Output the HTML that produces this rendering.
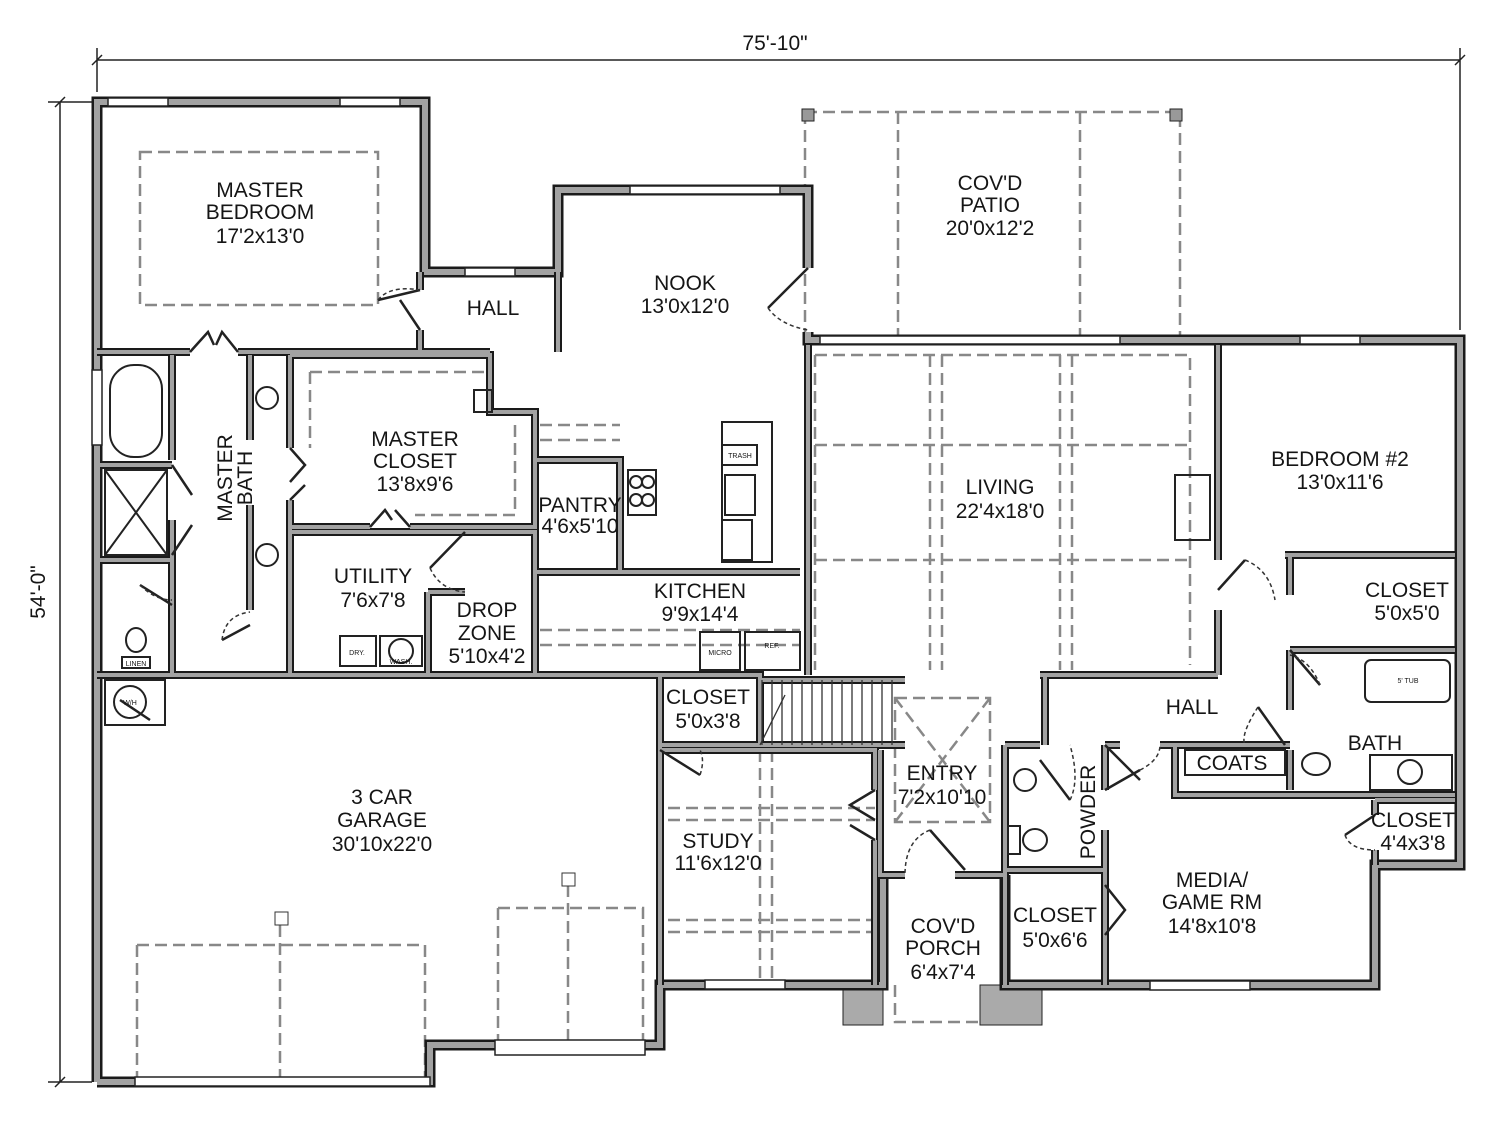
<!DOCTYPE html>
<html><head><meta charset="utf-8"><style>
html,body{margin:0;padding:0;background:#fff}
svg{display:block}
text{font-family:"Liberation Sans Narrow","Liberation Sans",sans-serif;font-size:21px;fill:#151515;text-anchor:middle}
text.s{font-size:7px}
.d{fill:none;stroke:#888;stroke-width:2.5;stroke-dasharray:12 6}
.t{fill:none;stroke:#222;stroke-width:2}
.dr{fill:none;stroke:#222;stroke-width:2.5}
.arc{fill:none;stroke:#333;stroke-width:1.5;stroke-dasharray:4 3}
</style></head><body>
<svg width="1500" height="1128" viewBox="0 0 1500 1128" xmlns="http://www.w3.org/2000/svg">
<defs>
<g id="wo" fill="none" stroke-linejoin="miter">
<path d="M97,1082 L97,102 L425,102 L425,272 L558,272 L558,190 L808,190 L808,268 M808,332 L808,340 L1460,340 L1460,865 L1375,865 L1375,985 L1005,985 L1005,875 M883,875 L883,985 L660,985 L660,1045 L430,1045 L430,1082 L97,1082"/>
</g>
<g id="wi" fill="none">
<path d="M97,352 L190,352 M238,352 L490,352 M420,272 L420,290 M420,330 L420,352 M558,272 L558,352"/>
<path d="M290,355 L490,355 L490,412 L535,412 L535,527 L410,527 M370,527 L290,527 M290,355 L290,448 M290,500 L290,675"/>
<path d="M172,355 L172,460 M172,520 L172,675 M100,465 L172,465 M100,560 L172,560 M250,355 L250,440 M250,505 L250,610"/>
<path d="M290,532 L535,532 L535,675 M428,592 L465,592 M428,592 L428,675"/>
<path d="M97,675 L660,675 L660,985 M660,745 L760,745 M660,675 L760,675 L760,745 M760,680 L905,680 M760,745 L905,745 M660,750 L875,750 L875,790 M875,840 L875,985"/>
<path d="M880,750 L880,875 L905,875 M955,875 L1005,875 M1005,745 L1005,985 M1005,745 L1040,745 M1045,675 L1045,745 M1005,870 L1105,870 M1105,745 L1105,790 M1105,830 L1105,985 M1105,745 L1120,745 M1160,745 L1175,745"/>
<path d="M1040,675 L1218,675 M1218,345 L1218,560 M1218,610 L1218,675 M1285,555 L1455,555 M1290,555 L1290,595 M1290,650 L1290,710 M1290,750 L1290,790 M1290,650 L1455,650 M1175,745 L1290,745 M1175,745 L1175,795 L1455,795 M1375,800 L1375,815 M1375,850 L1375,865 M1375,800 L1455,800"/>
<path d="M537,460 L620,460 L620,572 L537,572 M537,572 L800,572 M808,345 L808,675"/>
</g>
</defs>
<g stroke="#222" stroke-width="1.5" fill="none">
<path d="M97,60 L1460,60 M97,48 L97,92 M1460,48 L1460,330 M92,65 L102,55 M1455,65 L1465,55"/>
<path d="M60,102 L60,1082 M48,102 L92,102 M48,1082 L92,1082 M55,107 L65,97 M55,1087 L65,1077"/>
</g>
<text x="775" y="50">75'-10"</text>
<text x="45" y="592" transform="rotate(-90 45 592)">54'-0"</text>
<path class="d" d="M805,112 L1180,112 L1180,338 M805,112 L805,338 M898,112 L898,338 M1080,112 L1080,338"/>
<rect x="802" y="109" width="12" height="12" fill="#999" stroke="#222"/>
<rect x="1170" y="109" width="12" height="12" fill="#999" stroke="#222"/>
<rect class="d" x="140" y="152" width="238" height="153"/>
<path class="d" d="M815,355 L1190,355 L1190,665 M815,445 L1190,445 M815,560 L1190,560 M930,355 L930,670 M942,355 L942,670 M1060,355 L1060,670 M1072,355 L1072,670 M815,355 L815,670"/>
<path class="d" d="M668,808 L875,808 M668,820 L875,820 M668,920 L875,920 M668,932 L875,932 M760,750 L760,980 M772,750 L772,980"/>
<path class="d" d="M895,698 L990,698 L990,822 L895,822 Z M895,698 L990,822 M990,698 L895,822"/>
<path class="d" d="M310,372 L490,372 M310,372 L310,448 M515,425 L515,515 L415,515 M540,630 L800,630 M540,645 L800,645 M540,425 L620,425 M540,440 L620,440"/>
<path class="d" d="M137,945 L425,945 L425,1078 M137,945 L137,1078 M498,908 L643,908 L643,1040 M498,908 L498,1040 M280,925 L280,1078 M568,885 L568,1040"/>
<path class="d" d="M895,985 L895,1022 L985,1022 L985,985 M1045,680 L1045,740"/>
<rect x="275" y="912" width="13" height="13" fill="#fff" stroke="#333"/>
<rect x="562" y="873" width="13" height="13" fill="#fff" stroke="#333"/>
<rect x="843" y="985" width="40" height="40" fill="#aaa" stroke="#222"/>
<rect x="980" y="985" width="62" height="40" fill="#aaa" stroke="#222"/>
<use href="#wo" stroke="#1a1a1a" stroke-width="11"/>
<use href="#wo" stroke="#a2a2a2" stroke-width="6"/>
<use href="#wi" stroke="#1a1a1a" stroke-width="8"/>
<use href="#wi" stroke="#a2a2a2" stroke-width="4"/>
<g fill="#fff" stroke="#222" stroke-width="1.5">
<rect x="108" y="98" width="60" height="8"/><rect x="340" y="98" width="60" height="8"/>
<rect x="465" y="268" width="50" height="8"/><rect x="630" y="186" width="150" height="8"/>
<rect x="820" y="336" width="300" height="8"/><rect x="1300" y="336" width="60" height="8"/>
<rect x="92" y="370" width="10" height="75"/><rect x="135" y="1077" width="295" height="9"/>
<rect x="495" y="1040" width="150" height="15"/><rect x="705" y="980" width="80" height="9"/>
<rect x="1150" y="981" width="100" height="9"/>
</g>
<g class="t">
<rect x="110" y="365" width="52" height="92" rx="24"/>
<rect x="105" y="470" width="62" height="85"/><path d="M105,470 L167,555 M167,470 L105,555"/>
<circle cx="267" cy="398" r="11"/><circle cx="267" cy="555" r="11"/>
<ellipse cx="136" cy="640" rx="10" ry="12"/><rect x="122" y="657" width="28" height="11"/>
<circle cx="130" cy="702" r="16"/><rect x="105" y="680" width="60" height="45"/>
<rect x="474" y="390" width="18" height="22"/>
<rect x="340" y="636" width="36" height="30"/><rect x="380" y="636" width="42" height="30"/><circle cx="401" cy="651" r="12"/>
<rect x="628" y="470" width="28" height="45"/><circle cx="636" cy="482" r="6"/><circle cx="648" cy="482" r="6"/><circle cx="636" cy="500" r="6"/><circle cx="648" cy="500" r="6"/>
<rect x="722" y="422" width="50" height="140"/><rect x="722" y="445" width="35" height="20"/><rect x="725" y="475" width="30" height="40"/><rect x="722" y="520" width="30" height="40"/>
<rect x="700" y="632" width="40" height="38"/><rect x="745" y="632" width="55" height="38"/>
<rect x="1175" y="475" width="35" height="65"/>
<rect x="1365" y="660" width="85" height="42" rx="6"/>
<ellipse cx="1316" cy="764" rx="14" ry="11"/><circle cx="1410" cy="772" r="12"/><rect x="1370" y="755" width="82" height="35"/>
<circle cx="1025" cy="780" r="11"/><ellipse cx="1035" cy="840" rx="12" ry="11"/><rect x="1008" y="826" width="12" height="28"/>
<rect x="1185" y="750" width="100" height="25"/>
</g>
<g fill="none" stroke="#333" stroke-width="1.3">
<path d="M762,680 L762,745 M772,680 L772,745 M782,680 L782,745 M792,680 L792,745 M802,680 L802,745 M812,680 L812,745 M822,680 L822,745 M832,680 L832,745 M842,680 L842,745 M852,680 L852,745 M862,680 L862,745 M872,680 L872,745 M882,680 L882,745 M892,680 L892,745"/>
<path d="M760,745 L785,695"/>
</g>
<g class="dr">
<path d="M378,300 L420,290 M420,330 L400,300 M808,268 L768,308 M190,352 L208,332 L214,345 M238,352 L222,332 L216,345"/>
<path d="M290,448 L305,465 L290,482 M290,500 L305,485 M370,527 L385,510 L392,520 M410,527 L395,510"/>
<path d="M172,465 L192,495 M172,555 L192,525 M172,605 L140,585 M250,625 L222,640 M465,532 L430,568"/>
<path d="M1218,590 L1245,560 M1290,650 L1320,685 M1258,707 L1285,745 M1105,790 L1140,770 M1375,815 L1345,835 M1105,745 L1140,780"/>
<path d="M875,790 L850,805 L875,820 M875,840 L850,825 M930,830 L965,870 M1040,760 L1070,800 M1105,885 L1125,910 L1105,935 M660,750 L700,775 M150,720 L120,700"/>
</g>
<g class="arc">
<path d="M378,300 Q390,285 420,290 M768,308 Q780,325 808,330 M1245,560 Q1270,570 1275,600 M1320,685 Q1310,660 1290,655 M1258,707 Q1240,735 1245,745 M1140,770 Q1160,760 1160,745 M1345,835 Q1350,850 1375,850 M930,830 Q905,840 905,875 M1070,800 Q1080,780 1070,745 M430,568 Q440,590 465,592 M222,640 Q225,615 250,612 M140,585 Q155,600 172,600 M700,775 Q705,760 700,750"/>
</g>
<text x="260" y="197">MASTER</text><text x="260" y="219">BEDROOM</text><text x="260" y="243">17'2x13'0</text>
<text x="493" y="315">HALL</text>
<text x="685" y="290">NOOK</text><text x="685" y="313">13'0x12'0</text>
<text x="990" y="190">COV'D</text><text x="990" y="212">PATIO</text><text x="990" y="235">20'0x12'2</text>
<text x="232" y="478" transform="rotate(-90 232 478)">MASTER</text><text x="252" y="478" transform="rotate(-90 252 478)">BATH</text>
<text x="415" y="446">MASTER</text><text x="415" y="468">CLOSET</text><text x="415" y="491">13'8x9'6</text>
<text x="580" y="512">PANTRY</text><text x="580" y="533">4'6x5'10</text>
<text x="700" y="598">KITCHEN</text><text x="700" y="621">9'9x14'4</text>
<text x="1000" y="494">LIVING</text><text x="1000" y="518">22'4x18'0</text>
<text x="1340" y="466">BEDROOM #2</text><text x="1340" y="489">13'0x11'6</text>
<text x="1407" y="597">CLOSET</text><text x="1407" y="620">5'0x5'0</text>
<text x="373" y="583">UTILITY</text><text x="373" y="607">7'6x7'8</text>
<text x="487" y="617">DROP</text><text x="487" y="640">ZONE</text><text x="487" y="663">5'10x4'2</text>
<text x="708" y="704">CLOSET</text><text x="708" y="728">5'0x3'8</text>
<text x="1192" y="714">HALL</text><text x="1232" y="770">COATS</text><text x="1375" y="750">BATH</text>
<text x="942" y="780">ENTRY</text><text x="942" y="804">7'2x10'10</text>
<text x="1095" y="812" transform="rotate(-90 1095 812)">POWDER</text>
<text x="1413" y="827">CLOSET</text><text x="1413" y="850">4'4x3'8</text>
<text x="382" y="804">3 CAR</text><text x="382" y="827">GARAGE</text><text x="382" y="851">30'10x22'0</text>
<text x="718" y="848">STUDY</text><text x="718" y="870">11'6x12'0</text>
<text x="1212" y="887">MEDIA/</text><text x="1212" y="909">GAME RM</text><text x="1212" y="933">14'8x10'8</text>
<text x="1055" y="922">CLOSET</text><text x="1055" y="947">5'0x6'6</text>
<text x="943" y="933">COV'D</text><text x="943" y="955">PORCH</text><text x="943" y="979">6'4x7'4</text>
<text class="s" x="740" y="458">TRASH</text><text class="s" x="401" y="664">WASH.</text><text class="s" x="357" y="655">DRY.</text><text class="s" x="720" y="655">MICRO</text><text class="s" x="772" y="648">REF.</text><text class="s" x="1408" y="683">5' TUB</text><text class="s" x="136" y="666">LINEN</text><text class="s" x="130" y="705">W/H</text>
</svg>
</body></html>
